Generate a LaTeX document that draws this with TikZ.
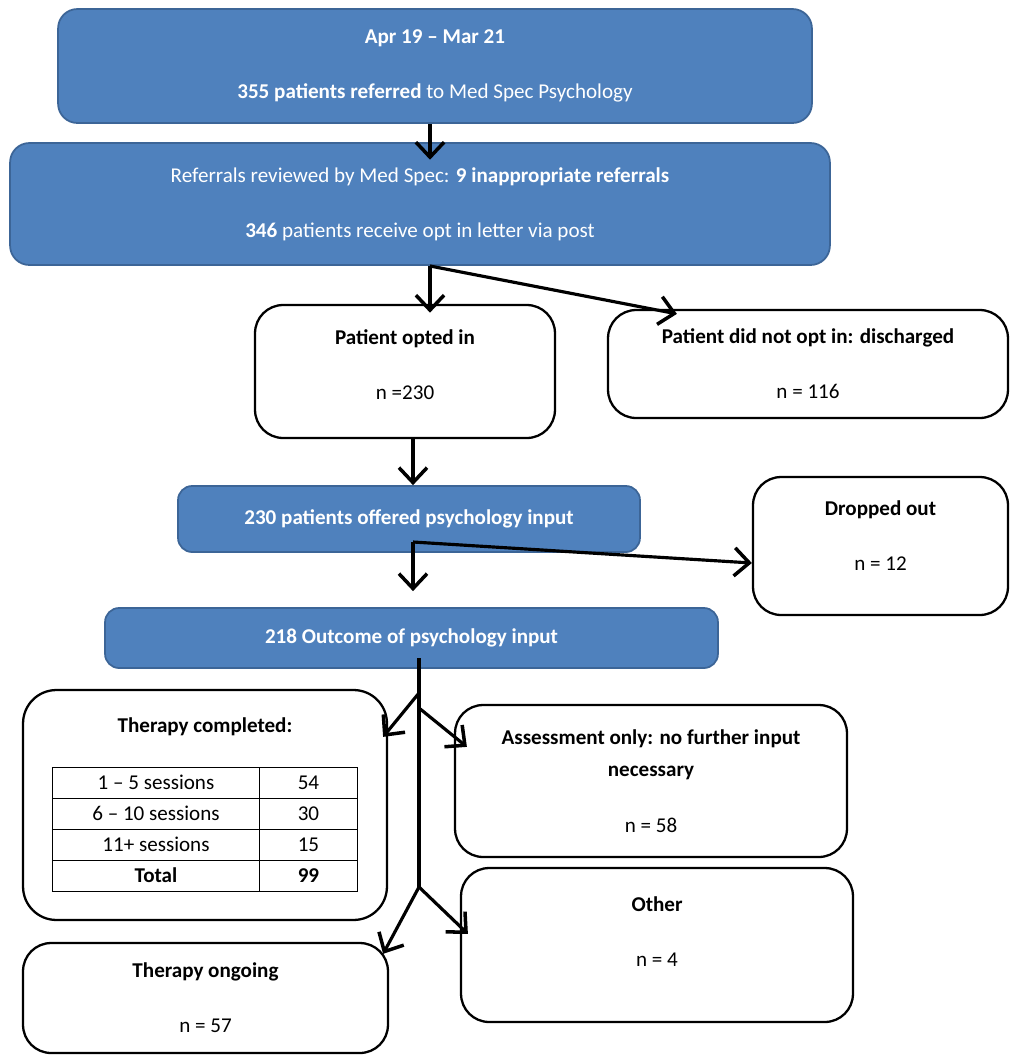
\documentclass[tikz,border=0pt]{standalone}
\usepackage{fontspec}
\setmainfont{Carlito}
\usepackage{array}
\usetikzlibrary{calc, arrows.meta, positioning}
\definecolor{medblue}{HTML}{4F81BD}
\definecolor{mededge}{HTML}{3C6597}

\tikzset{
    bluebox/.style={draw=mededge, line width=1pt, fill=medblue, text=white, rounded corners=11pt, align=center, inner sep=0pt},
    whitebox/.style={draw=black, line width=1.3pt, fill=white, rounded corners=16pt, align=center, inner sep=0pt},
    flow/.style={line width=1.8pt, -{Straight Barb[length=8.5pt, width=16pt, line width=2pt]}},
    stemline/.style={line width=1.8pt}
}

\begin{document}
\begin{tikzpicture}[x=0.02cm, y=-0.02cm, font=\fontsize{12}{14.4}\selectfont]
    \useasboundingbox (0,0) rectangle (1011,1056);

    % Referral boxes
    \node[bluebox, minimum width=15.08cm, minimum height=2.28cm] (referred) at (435,66)
        {\textbf{Apr 19 – Mar 21}\\[17pt]\textbf{355 patients referred} to Med Spec Psychology};
    \node[bluebox, minimum width=16.4cm, minimum height=2.44cm] (reviewed) at (420,204)
        {Referrals reviewed by Med Spec: \textbf{9 inappropriate referrals}\\[17pt]\textbf{346} patients receive opt in letter via post};

    % Opt in
    \node[whitebox, minimum width=6cm, minimum height=2.66cm, text depth=8pt] (optedin) at (405,371.5)
        {\textbf{Patient opted in}\\[17pt]n =230};
    \node[whitebox, minimum width=8cm, minimum height=2.16cm] (notopted) at (808,364)
        {\textbf{Patient did not opt in: discharged}\\[17pt]n = 116};

    % Psychology input
    \node[bluebox, rounded corners=8pt, minimum width=9.24cm, minimum height=1.32cm] (offered) at (409,519)
        {\textbf{230 patients offered psychology input}};
    \node[whitebox, minimum width=5.1cm, minimum height=2.76cm, text depth=12pt] (dropped) at (880.5,546)
        {\textbf{Dropped out}\\[17pt]n = 12};
    \node[bluebox, rounded corners=8pt, minimum width=12.26cm, minimum height=1.2cm] (outcome) at (411.5,638)
        {\textbf{218 Outcome of psychology input}};

    % Outcomes
    \node[whitebox, rounded corners=19pt, minimum width=7.28cm, minimum height=4.6cm] (completed) at (205,805)
        {\textbf{Therapy completed:}\\[6pt]%
        \renewcommand{\arraystretch}{1.17}\setlength{\arrayrulewidth}{0.8pt}%
        \begin{tabular}[t]{|>{\centering\arraybackslash}p{105pt}|>{\centering\arraybackslash}p{43pt}|}
            \hline
            1 – 5 sessions & 54 \\ \hline
            6 – 10 sessions & 30 \\ \hline
            11+ sessions & 15 \\ \hline
            \textbf{Total} & \textbf{99} \\ \hline
        \end{tabular}};
    \node[whitebox, minimum width=7.84cm, minimum height=3.04cm] (assess) at (651,781)
        {\textbf{Assessment only: no further input}\\[4pt]\textbf{necessary}\\[17pt]n = 58};
    \node[whitebox, minimum width=7.84cm, minimum height=3.08cm, text depth=15pt] (other) at (657,945)
        {\textbf{Other}\\[17pt]n = 4};
    \node[whitebox, minimum width=7.3cm, minimum height=2.2cm] (ongoing) at (205.5,998)
        {\textbf{Therapy ongoing}\\[17pt]n = 57};

    % Branch points
    \coordinate (fork1) at (430,266);
    \coordinate (fork2) at (413,542);
    \coordinate (stem) at (419,658);
    \coordinate (fork3) at (419,693);
    \coordinate (fork4) at (419,708);
    \coordinate (fork5) at (419,887);

    % Arrows
    \draw[flow, shorten >=-10pt] (referred.south -| fork1) -- (reviewed.north -| fork1);
    \draw[flow, shorten >=-5pt] (fork1) -- (fork1 |- optedin.north);
    \draw[flow] (fork1) -- ($(notopted.north west)+(70,5)$);
    \draw[flow] (fork2 |- optedin.south) -- (fork2 |- offered.north);
    \draw[flow] (fork2) -- ($(fork2 |- outcome.north)+(0,-16)$);
    \draw[flow] (fork2) -- ($(dropped.west)+(0,17)$);
    \draw[stemline] (stem) -- (fork5);
    \draw[flow] (fork3) -- ($(completed.north east)+(-5,48)$);
    \draw[flow] (fork4) -- ($(assess.north west)+(13,43)$);
    \draw[flow] (fork5) -- ($(ongoing.north east)+(-6,12)$);
    \draw[flow] (fork5) -- ($(other.north west)+(8,67)$);
\end{tikzpicture}
\end{document}
